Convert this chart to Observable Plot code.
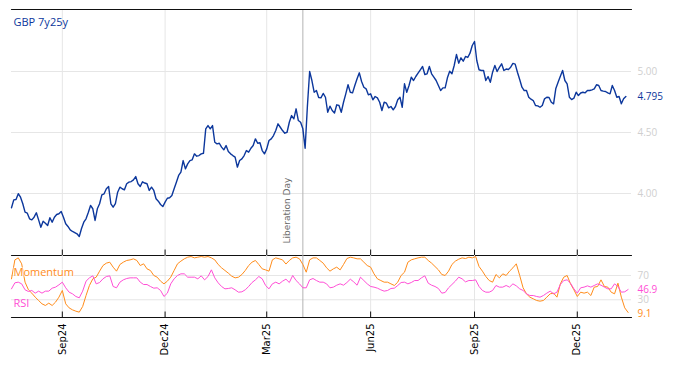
<!DOCTYPE html>
<html><head><meta charset="utf-8">
<script src="https://cdn.jsdelivr.net/npm/d3@7"></script>
<script src="https://cdn.jsdelivr.net/npm/@observablehq/plot@0.6"></script>
<style>
html,body{margin:0;padding:0;background:#fff;}
#chart{position:relative;width:674px;height:366px;overflow:hidden;}
#chart > svg{position:absolute;left:0;display:block;}
</style></head><body><div id="chart"></div>
<script>
// ---- data ----
const seriesName = "GBP 7y25y";
const gbpStart = "2024-07-18";
const gbpStepDays = 2;
const gbp7y25y = [
3.883,3.948,3.951,3.998,3.970,3.916,3.847,3.839,3.793,3.784,
3.806,3.842,3.784,3.724,3.773,3.757,3.738,3.801,3.765,3.806,
3.828,3.834,3.852,3.806,3.752,3.730,3.702,3.689,3.680,3.670,
3.648,3.713,3.765,3.793,3.844,3.902,3.875,3.779,3.875,3.916,
3.989,3.998,4.039,4.057,3.916,3.888,3.918,4.011,4.052,4.039,
4.030,4.080,4.093,4.098,4.112,4.139,4.080,4.057,4.096,4.086,
4.080,4.025,4.052,4.025,3.957,3.937,3.910,3.893,3.929,3.961,
3.965,3.984,4.039,4.093,4.148,4.175,4.270,4.202,4.243,4.270,
4.276,4.325,4.306,4.311,4.325,4.330,4.530,4.557,4.530,4.557,
4.420,4.407,4.412,4.380,4.358,4.393,4.344,4.325,4.311,4.298,
4.216,4.270,4.284,4.311,4.352,4.339,4.371,4.393,4.448,4.412,
4.416,4.352,4.325,4.366,4.434,4.448,4.475,4.516,4.571,4.543,
4.516,4.494,4.502,4.584,4.639,4.612,4.694,4.598,4.584,4.530,
4.371,4.713,5.000,4.926,4.830,4.844,4.787,4.784,4.820,4.789,
4.666,4.716,4.680,4.660,4.727,4.721,4.666,4.748,4.817,4.891,
4.830,4.825,4.885,4.940,4.989,4.918,4.871,4.858,4.809,4.817,
4.768,4.795,4.784,4.748,4.680,4.748,4.740,4.702,4.713,4.686,
4.713,4.768,4.789,4.707,4.899,4.830,4.885,4.953,4.926,4.959,
4.986,5.014,5.041,4.975,4.981,5.041,4.981,4.953,4.926,4.885,
4.844,4.866,4.866,4.948,5.002,4.981,5.049,5.139,5.068,5.112,
5.084,5.123,5.115,5.150,5.213,5.246,5.090,5.014,5.008,5.008,
4.926,4.959,4.912,4.994,5.049,5.000,5.033,5.063,5.008,5.020,
5.016,5.035,5.066,5.060,4.994,4.934,4.871,4.844,4.844,4.789,
4.773,4.762,4.721,4.718,4.707,4.721,4.776,4.789,4.787,4.748,
4.735,4.861,4.912,4.961,5.008,4.926,4.899,4.789,4.770,4.781,
4.830,4.803,4.824,4.830,4.825,4.844,4.844,4.850,4.858,4.891,
4.885,4.844,4.839,4.836,4.825,4.817,4.885,4.844,4.789,4.795,
4.735,4.776,4.795
];

const indStart = "2024-07-18";
const indStepDays = 3;
const momentum = [
64.5,95.7,99.0,89.2,59.0,46.4,40.9,34.3,28.8,23.3,
20.6,24.4,20.6,26.1,34.3,45.3,23.3,16.7,13.4,11.2,
9.6,18.9,37.0,53.5,64.5,67.2,77.1,86.4,90.3,91.9,
83.7,77.1,88.1,91.9,94.7,95.7,97.4,94.7,86.4,89.2,
80.9,78.2,70.0,67.2,60.6,56.2,60.6,67.2,78.2,89.2,
93.6,97.4,100.1,101.2,99.0,100.1,101.2,100.1,101.2,99.0,
95.7,88.1,82.6,78.2,73.8,68.9,66.1,67.2,71.6,78.2,
86.4,91.9,94.7,88.1,80.9,79.2,77.1,95.7,99.0,97.4,
95.7,88.8,94.7,99.0,100.1,97.4,88.1,75.4,95.7,99.0,
99.0,94.7,90.3,82.6,77.1,80.9,83.7,79.2,88.1,97.9,
100.1,99.0,97.4,97.4,91.9,86.4,83.7,72.7,64.5,61.7,
59.0,59.0,56.2,53.5,59.0,70.0,75.4,91.9,95.7,97.4,
99.0,100.1,100.1,94.7,90.3,84.8,79.3,71.6,70.0,77.1,
88.1,93.6,96.8,99.0,97.9,100.1,99.0,101.2,84.8,77.1,
68.3,61.7,59.0,71.6,66.1,72.7,70.0,77.1,82.6,89.2,
70.0,49.7,39.8,34.3,31.6,28.8,27.7,28.8,34.3,39.8,
40.9,34.3,56.2,67.2,70.0,56.2,46.4,35.4,42.5,40.9,
42.5,37.0,50.8,51.9,62.8,51.9,50.8,42.5,39.8,57.3,
34.3,16.7,9.1
];
const rsi = [
48.0,57.9,59.0,56.2,46.4,43.6,45.3,40.9,44.2,40.9,
44.2,44.2,49.1,50.8,54.6,59.0,49.7,42.5,39.8,35.4,
33.2,44.2,60.6,66.1,69.4,56.2,58.4,64.5,68.3,69.4,
51.9,49.7,59.0,62.8,65.0,66.1,66.1,66.1,59.0,55.1,
55.1,51.9,49.1,49.7,45.3,35.4,40.9,56.2,64.5,70.0,
72.7,72.7,67.2,67.2,67.2,64.5,69.4,62.8,68.3,79.3,
66.1,57.9,51.9,48.0,48.6,49.7,46.4,42.5,43.1,46.4,
51.9,58.4,62.8,68.3,64.5,53.5,48.0,56.2,59.0,56.2,
60.6,63.9,58.4,70.0,61.7,56.2,49.7,49.7,62.8,65.0,
61.7,59.0,59.0,56.2,49.7,50.8,54.0,56.2,54.0,58.4,
63.9,59.5,54.0,67.2,61.7,56.2,51.9,50.8,49.1,46.4,
44.2,45.3,48.6,49.1,53.5,58.4,59.0,56.2,58.4,61.7,
61.7,66.1,69.4,57.3,54.0,51.9,48.6,40.9,42.0,49.7,
55.1,60.6,67.2,64.5,59.5,61.7,61.7,62.8,51.9,45.3,
42.5,42.5,45.3,53.5,50.8,50.8,53.5,50.8,56.2,52.9,
48.0,45.3,39.8,37.0,37.0,35.4,34.3,37.0,40.9,44.2,
39.8,42.5,55.1,61.7,62.8,57.3,48.0,40.9,49.7,50.8,
52.9,50.8,53.5,56.2,54.0,50.8,48.0,48.0,56.2,51.9,
42.5,43.1,46.9
];

const tickDates = ["2024-09-01","2024-12-01","2025-03-01","2025-06-01","2025-09-01","2025-12-01"];
const tickLabels = ["Sep24","Dec24","Mar25","Jun25","Sep25","Dec25"];
const xDomainDates = ["2024-07-18","2026-01-18"];
const priceDomain = [3.492, 5.508];
const priceTicks = [4.0, 4.5, 5.0];
const indDomain = [0.8, 102.9];
const indTicks = [30, 70];
const eventDate = "2025-04-02";
const eventLabel = "Liberation Day";

// ---- build ----
const parse = d3.utcParse("%Y-%m-%d");
const mainData = gbp7y25y.map((v, i) => ({date: d3.utcDay.offset(parse(gbpStart), i * gbpStepDays), v}));
const indData = momentum.map((m, i) => ({date: d3.utcDay.offset(parse(indStart), i * indStepDays), m, r: rsi[i]}));
const tickTimes = tickDates.map(parse);
const labelByTime = new Map(tickTimes.map((t, i) => [+t, tickLabels[i]]));
const xDom = xDomainDates.map(parse);
const ev = parse(eventDate);

const C = {blue: "#0c379c", orange: "#ff8c1a", pink: "#ff4fd6", grid: "#e6e6e6", label: "#cfcfcf", ev: "#b3b3b3", evText: "#6b6b6b", frame: "#111111"};
const baseStyle = {fontFamily: "DejaVu Sans", fontSize: "10px", background: "transparent"};

const lastMain = mainData[mainData.length - 1];
const lastInd = indData[indData.length - 1];

// tick length expressed as a fraction of each panel's y extent (~6px)
const mainTick = (priceDomain[1] - priceDomain[0]) * 6 / 246;
const indTick = (indDomain[1] - indDomain[0]) * 6 / 62;

// horizontal frame lines drawn as line marks spanning the x domain
const hLine = (yv) => Plot.lineY(xDom, {x: d => d, y: () => yv, stroke: C.frame, strokeWidth: 1.2});
const tickLinks = (y0, len) => Plot.link(tickTimes, {x1: d => d, x2: d => d, y1: () => y0, y2: () => y0 + len, stroke: C.frame, strokeWidth: 1});

const mainPlot = Plot.plot({
  width: 674, height: 256, marginTop: 9, marginBottom: 1, marginLeft: 11, marginRight: 43,
  x: {type: "utc", domain: xDom, axis: null},
  y: {domain: priceDomain, axis: null},
  style: baseStyle,
  marks: [
    Plot.gridX(tickTimes, {stroke: C.grid, strokeOpacity: 1}),
    Plot.gridY(priceTicks, {stroke: C.grid, strokeOpacity: 1}),
    Plot.ruleX([ev], {stroke: C.ev, strokeWidth: 1}),
    Plot.text([eventLabel], {x: () => ev, text: d => d, frameAnchor: "bottom", rotate: -90, textAnchor: "start", dx: -13, dy: -12, fill: C.evText, fontSize: 9}),
    Plot.lineY(mainData, {x: "date", y: "v", stroke: C.blue, strokeWidth: 1.4}),
    Plot.axisY(priceTicks, {anchor: "right", label: null, tickSize: 0, tickPadding: 6, tickFormat: d3.format(".2f"), color: C.label, fontSize: 10, fontFamily: "Open Sans"}),
    Plot.text([lastMain], {y: "v", frameAnchor: "right", text: d => d3.format(".3f")(d.v), dx: 6, textAnchor: "start", fill: C.blue, fontSize: 10, fontFamily: "Open Sans"}),
    Plot.text([seriesName], {text: d => d, frameAnchor: "top-left", lineAnchor: "top", dx: 2, dy: 9, fill: C.blue, fontSize: 11, fontFamily: "Open Sans"}),
    hLine(priceDomain[1]),
    hLine(priceDomain[0]),
    tickLinks(priceDomain[0], mainTick)
  ]
});

const indPlot = Plot.plot({
  width: 674, height: 111, marginTop: 0, marginBottom: 49, marginLeft: 11, marginRight: 43,
  x: {type: "utc", domain: xDom, axis: null},
  y: {domain: indDomain, axis: null},
  style: baseStyle,
  marks: [
    Plot.gridX(tickTimes, {stroke: C.grid, strokeOpacity: 1}),
    Plot.gridY(indTicks, {stroke: C.grid, strokeOpacity: 1}),
    Plot.ruleX([ev], {stroke: C.ev, strokeWidth: 1}),
    Plot.lineY(indData, {x: "date", y: "m", stroke: C.orange, strokeWidth: 1}),
    Plot.lineY(indData, {x: "date", y: "r", stroke: C.pink, strokeWidth: 1}),
    Plot.text(["Momentum"], {text: d => d, frameAnchor: "top-left", dx: 2, dy: 13, fill: C.orange, stroke: "white", strokeWidth: 2, strokeOpacity: 0.6, fontSize: 11, fontFamily: "Open Sans"}),
    Plot.text(["RSI"], {text: d => d, frameAnchor: "bottom-left", dx: 2, dy: -11, fill: C.pink, fontSize: 11, fontFamily: "Open Sans"}),
    Plot.axisY(indTicks, {anchor: "right", label: null, tickSize: 0, tickPadding: 6, color: C.label, fontSize: 10, fontFamily: "Open Sans"}),
    Plot.text([lastInd], {y: "r", frameAnchor: "right", text: d => d3.format(".1f")(d.r), dx: 6, textAnchor: "start", fill: C.pink, fontSize: 10, fontFamily: "Open Sans"}),
    Plot.text([lastInd], {y: "m", frameAnchor: "right", text: d => d3.format(".1f")(d.m), dx: 6, dy: 1, textAnchor: "start", fill: C.orange, fontSize: 10, fontFamily: "Open Sans"}),
    hLine(indDomain[0]),
    tickLinks(indDomain[0], indTick),
    Plot.axisX(tickTimes, {label: null, tickSize: 0, tickPadding: 6, tickRotate: -90, tickFormat: d => labelByTime.get(+d), color: "black", fontSize: 10})
  ]
});

mainPlot.style.top = "0px";
indPlot.style.top = "255px";
const host = document.getElementById("chart");
host.appendChild(mainPlot);
host.appendChild(indPlot);
</script>
</body></html>
